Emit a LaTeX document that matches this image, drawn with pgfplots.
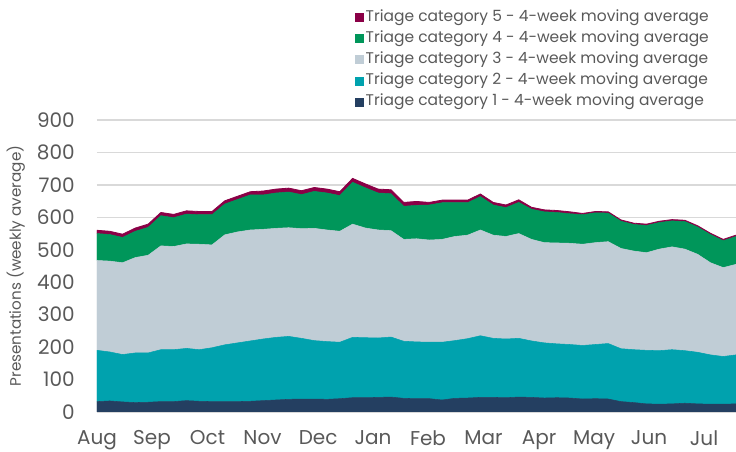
\documentclass[border=0pt]{standalone}
\usepackage{fontspec}
\setmainfont{Poppins}
\usepackage{pgfplots}
\usepackage{pgfplotstable}
\pgfplotsset{compat=1.18}
\definecolor{triageone}{HTML}{243F61}
\definecolor{triagetwo}{HTML}{00A2AE}
\definecolor{triagethree}{HTML}{C0CDD6}
\definecolor{triagefour}{HTML}{00965A}
\definecolor{triagefive}{HTML}{8A0046}
\definecolor{gridgrey}{HTML}{D9D9D9}
\definecolor{labelgrey}{HTML}{595959}

% weekly 4-week moving averages, Aug to Jul
\pgfplotstableread{
w  c1  c2  c3  c4  c5
0  32  158 277 83  10
1  34  151 280 82  10
2  31  146 283 78  10
3  29  153 294 81  10
4  30  152 301 86  10
5  32  160 320 93  10
6  32  160 318 89  10
7  35  161 322 92  10
8  33  159 325 91  10
9  32  166 317 93  10
10 32  175 339 95  10
11 32  181 342 100 10
12 33  186 342 108 10
13 35  190 338 106 12
14 37  193 336 109 12
15 39  194 335 110 12
16 40  187 338 105 12
17 40  180 346 114 12
18 39  178 344 114 12
19 41  174 342 110 12
20 44  186 349 129 12
21 44  185 338 124 12
22 45  183 333 114 12
23 46  185 328 114 12
24 42  176 314 102 12
25 41  175 318 103 12
26 41  174 315 108 8
27 37  178 317 113 8
28 42  178 321 104 8
29 43  183 319 100 8
30 45  190 326 103 8
31 45  182 318 93  8
32 44  181 316 89  8
33 46  181 323 96  8
34 45  174 313 93  6
35 43  170 309 95  6
36 44  166 311 94  6
37 43  165 312 91  6
38 40  165 312 91  4
39 41  167 314 92  4
40 40  171 314 88  4
41 32  163 309 84  4
42 29  163 304 82  4
43 25  165 301 84  4
44 24  165 313 82  4
45 25  167 317 80  4
46 27  162 313 85  4
47 25  159 302 84  4
48 24  152 284 87  4
49 24  147 274 83  4
50 25  151 279 86  4
}\triage

\begin{document}
\begin{tikzpicture}
\useasboundingbox (-72.75pt,-30pt) rectangle (479.25pt,309pt);
\begin{axis}[
  scale only axis,
  width=479.25pt, height=219pt,
  xmin=0, xmax=50, ymin=0, ymax=900,
  stack plots=y,
  ytick={0,100,...,900},
  xtick={0,4.3,8.65,12.95,17.3,21.6,25.9,30.25,34.6,38.9,43.2,47.5},
  xticklabels={Aug,Sep,Oct,Nov,Dec,Jan,Feb,Mar,Apr,May,Jun,Jul},
  ymajorgrids,
  grid style={color=gridgrey, line width=1pt},
  axis line style={draw=none},
  tick style={draw=none},
  major tick length=0pt,
  /pgf/number format/assume math mode=true,
  ticklabel style={font=\fontsize{15}{17}\selectfont, text=labelgrey},
  yticklabel style={anchor=east, inner sep=0pt, xshift=-16.5pt},
  xticklabel style={anchor=north, inner sep=0pt, yshift=-13.8pt},
  ylabel={Presentations (weekly average)},
  every axis y label/.style={at={(axis description cs:-0.127,0.5)},
    rotate=90, anchor=center, font=\fontsize{11.4}{13}\selectfont,
    text=labelgrey},
  legend image code/.code={\fill[#1] (0pt,-3pt) rectangle (6pt,3pt);},
  reverse legend,
  legend cell align=left,
  legend style={at={(axis description cs:0.403,1.385)}, anchor=north west,
    draw=none, fill=none, inner sep=0pt, row sep=1.8pt,
    font=\fontsize{11.6}{13}\selectfont, text=labelgrey,
    nodes={inner sep=1.6pt, text height=8.3pt, text depth=2.6pt}},
]
\addplot[fill=triageone, draw=triageone, line width=0.4pt]
  table[x=w, y=c1] {\triage} \closedcycle;
\addplot[fill=triagetwo, draw=triagetwo, line width=0.4pt]
  table[x=w, y=c2] {\triage} \closedcycle;
\addplot[fill=triagethree, draw=triagethree, line width=0.4pt]
  table[x=w, y=c3] {\triage} \closedcycle;
\addplot[fill=triagefour, draw=triagefour, line width=0.4pt]
  table[x=w, y=c4] {\triage} \closedcycle;
\addplot[fill=triagefive, draw=triagefive, line width=0.6pt]
  table[x=w, y=c5] {\triage} \closedcycle;
\legend{Triage category 1 - 4-week moving average,
        Triage category 2 - 4-week moving average,
        Triage category 3 - 4-week moving average,
        Triage category 4 - 4-week moving average,
        Triage category 5 - 4-week moving average}
\end{axis}
\end{tikzpicture}
\end{document}
